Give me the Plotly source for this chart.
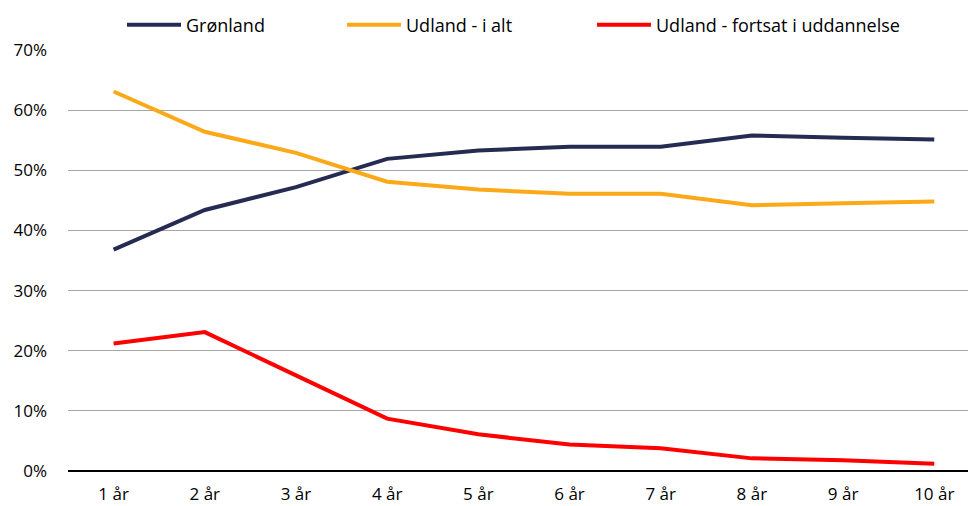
import plotly.graph_objects as go

categories = ["1 år", "2 år", "3 år", "4 år", "5 år", "6 år", "7 år", "8 år", "9 år", "10 år"]
groenland = [36.8, 43.4, 47.2, 51.9, 53.3, 53.9, 53.9, 55.8, 55.4, 55.1]
udland_alt = [63.1, 56.4, 52.9, 48.1, 46.8, 46.1, 46.1, 44.2, 44.5, 44.8]
udland_udd = [21.2, 23.1, 15.9, 8.7, 6.1, 4.4, 3.8, 2.1, 1.8, 1.2]
y_ticks = [0, 10, 20, 30, 40, 50, 60, 70]
y_tick_labels = ["0%", "10%", "20%", "30%", "40%", "50%", "60%", "70%"]

FONT = "Open Sans"
W, H = 968, 506
series = [
    ("Grønland", groenland, "#262B52", "legend"),
    ("Udland - i alt", udland_alt, "#FBA919", "legend2"),
    ("Udland - fortsat i uddannelse", udland_udd, "#FF0000", "legend3"),
]

fig = go.Figure()
for name, vals, color, lg in series:
    fig.add_trace(go.Scatter(
        x=list(range(len(categories))), y=vals, name=name, mode="lines",
        line=dict(color=color, width=4), legend=lg, showlegend=True,
    ))

leg_common = dict(orientation="h", yanchor="middle", xanchor="left",
                  font=dict(family=FONT, size=18, color="#000000"),
                  bgcolor="rgba(0,0,0,0)", itemwidth=54, visible=True,
                  xref="container", yref="container", y=1 - 25 / H)
fig.update_layout(
    width=W, height=H, showlegend=True,
    margin=dict(l=68, r=0, t=50, b=35, autoexpand=False),
    paper_bgcolor="white", plot_bgcolor="white",
    legend=dict(**leg_common, x=122 / W),
    legend2=dict(**leg_common, x=342 / W),
    legend3=dict(**leg_common, x=592 / W),
    xaxis=dict(
        tickmode="array", tickvals=list(range(len(categories))), ticktext=categories,
        range=[-0.5, 9.37], showgrid=False, showline=False, zeroline=False,
        ticks="", ticklabelstandoff=11,
        tickfont=dict(family=FONT, size=17, color="#000000"),
    ),
    yaxis=dict(
        tickmode="array", tickvals=y_ticks, ticktext=y_tick_labels,
        range=[0, 70], showgrid=True, gridcolor="#A6A6A6", gridwidth=1,
        zeroline=True, zerolinecolor="#000000", zerolinewidth=2,
        showline=False, ticks="", ticklabelstandoff=20,
        tickfont=dict(family=FONT, size=17, color="#000000"),
    ),
)
fig.write_html("out.html", config={"displayModeBar": False},
               post_script="document.body.style.margin='0';")
